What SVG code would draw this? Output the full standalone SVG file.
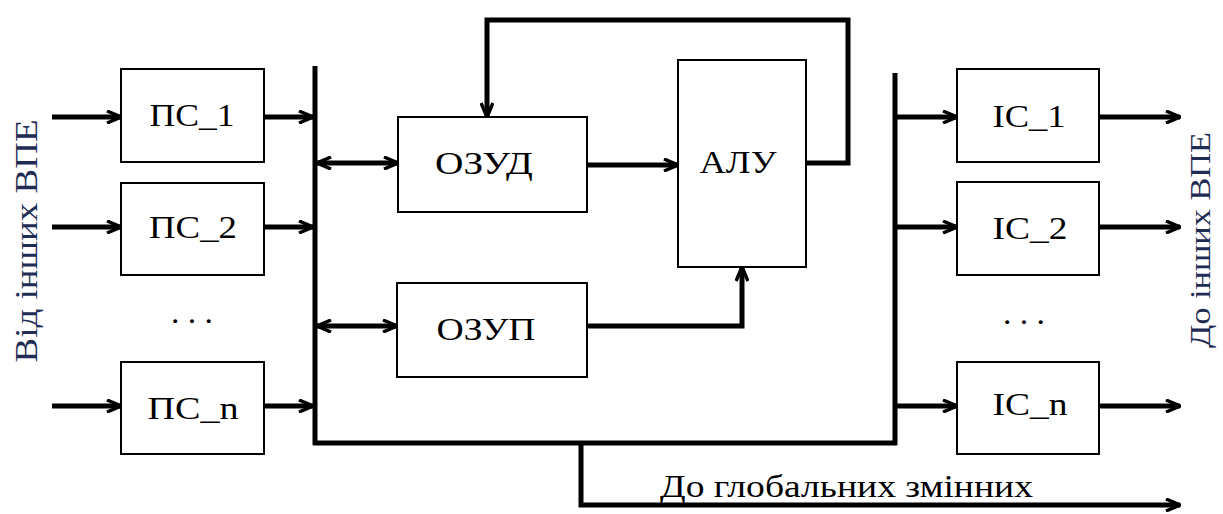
<svg xmlns="http://www.w3.org/2000/svg" width="1223" height="514" viewBox="0 0 1223 514">
<style>
.box{fill:#fff;stroke:#000;stroke-width:2}
.lbl{fill:#000;text-anchor:middle}
.side{fill:#1f2d55;text-anchor:middle}
.c{fill:none;stroke:#000;stroke-width:5}
.bus{fill:none;stroke:#000;stroke-width:5}
</style>
<defs>
<marker id="ah" viewBox="0 0 16 14" refX="15" refY="7" markerWidth="16" markerHeight="14" markerUnits="userSpaceOnUse" orient="auto-start-reverse">
<path d="M1,1 L15,7 L1,13" fill="none" stroke="#000" stroke-width="3.5"/>
</marker>
</defs>
<g id="connectors">
<line class="bus" x1="315" y1="66" x2="315" y2="445"/>
<line class="bus" x1="313" y1="443" x2="897" y2="443"/>
<line class="bus" x1="895" y1="73" x2="895" y2="445"/>
<line class="c" x1="52" y1="117" x2="121" y2="117" marker-end="url(#ah)"/>
<line class="c" x1="52" y1="227" x2="121" y2="227" marker-end="url(#ah)"/>
<line class="c" x1="52" y1="406" x2="121" y2="406" marker-end="url(#ah)"/>
<line class="c" x1="264" y1="117" x2="313" y2="117" marker-end="url(#ah)"/>
<line class="c" x1="264" y1="227" x2="313" y2="227" marker-end="url(#ah)"/>
<line class="c" x1="264" y1="406" x2="313" y2="406" marker-end="url(#ah)"/>
<line class="c" x1="317" y1="163" x2="398" y2="163" marker-start="url(#ah)" marker-end="url(#ah)"/>
<line class="c" x1="317" y1="326" x2="397" y2="326" marker-start="url(#ah)" marker-end="url(#ah)"/>
<line class="c" x1="587" y1="165" x2="678" y2="165" marker-end="url(#ah)"/>
<polyline class="c" points="587,326 742,326 742,267" marker-end="url(#ah)"/>
<polyline class="c" points="806,163 848,163 848,20 487,20 487,117" marker-end="url(#ah)"/>
<line class="c" x1="897" y1="117" x2="957" y2="117" marker-end="url(#ah)"/>
<line class="c" x1="897" y1="227" x2="957" y2="227" marker-end="url(#ah)"/>
<line class="c" x1="897" y1="406" x2="957" y2="406" marker-end="url(#ah)"/>
<line class="c" x1="1099" y1="117" x2="1180" y2="117" marker-end="url(#ah)"/>
<line class="c" x1="1099" y1="227" x2="1180" y2="227" marker-end="url(#ah)"/>
<line class="c" x1="1099" y1="406" x2="1180" y2="406" marker-end="url(#ah)"/>
<polyline class="c" points="581,443 581,505 1180,505" marker-end="url(#ah)"/>
</g>
<g id="ps1"><rect class="box" x="121" y="69" width="143" height="93"/><text class="lbl" x="192" y="126" font-family="Liberation Serif" font-size="31" textLength="85" lengthAdjust="spacingAndGlyphs">ПС_1</text></g>
<g id="ps2"><rect class="box" x="121" y="183" width="143" height="92"/><text class="lbl" x="193" y="238" font-family="Liberation Serif" font-size="31" textLength="88" lengthAdjust="spacingAndGlyphs">ПС_2</text></g>
<g id="psdots"><text class="lbl" x="192" y="323" font-family="Liberation Serif" font-size="31" textLength="42" lengthAdjust="spacingAndGlyphs">. . .</text></g>
<g id="psn"><rect class="box" x="121" y="362" width="143" height="92"/><text class="lbl" x="193" y="419" font-family="Liberation Serif" font-size="31" textLength="91" lengthAdjust="spacingAndGlyphs">ПС_n</text></g>
<g id="ozud"><rect class="box" x="398" y="117" width="189" height="95"/><text class="lbl" x="484" y="174" font-family="Liberation Serif" font-size="31" textLength="98" lengthAdjust="spacingAndGlyphs">ОЗУД</text></g>
<g id="ozup"><rect class="box" x="397" y="283" width="190" height="94"/><text class="lbl" x="486" y="340" font-family="Liberation Serif" font-size="31" textLength="99" lengthAdjust="spacingAndGlyphs">ОЗУП</text></g>
<g id="alu"><rect class="box" x="678" y="60" width="128" height="207"/><text class="lbl" x="738" y="173" font-family="Liberation Serif" font-size="31" textLength="77" lengthAdjust="spacingAndGlyphs">АЛУ</text></g>
<g id="ic1"><rect class="box" x="957" y="69" width="142" height="93"/><text class="lbl" x="1029" y="127" font-family="Liberation Serif" font-size="31" textLength="73" lengthAdjust="spacingAndGlyphs">IC_1</text></g>
<g id="ic2"><rect class="box" x="957" y="182" width="142" height="93"/><text class="lbl" x="1030" y="239" font-family="Liberation Serif" font-size="31" textLength="75" lengthAdjust="spacingAndGlyphs">IC_2</text></g>
<g id="icdots"><text class="lbl" x="1024" y="324" font-family="Liberation Serif" font-size="31" textLength="42" lengthAdjust="spacingAndGlyphs">. . .</text></g>
<g id="icn"><rect class="box" x="957" y="362" width="142" height="92"/><text class="lbl" x="1030" y="415" font-family="Liberation Serif" font-size="31" textLength="75" lengthAdjust="spacingAndGlyphs">IC_n</text></g>
<g id="labels">
<text class="side" transform="translate(37,241) rotate(-90)" font-family="Liberation Serif" font-size="32" textLength="243" lengthAdjust="spacingAndGlyphs">Від інших ВПЕ</text>
<text class="side" transform="translate(1210,240) rotate(-90)" font-family="Liberation Serif" font-size="30" textLength="216" lengthAdjust="spacingAndGlyphs">До інших ВПЕ</text>
<text x="660" y="497" font-family="Liberation Serif" font-size="32" fill="#000" textLength="373" lengthAdjust="spacingAndGlyphs">До глобальних змінних</text>
</g>
</svg>
